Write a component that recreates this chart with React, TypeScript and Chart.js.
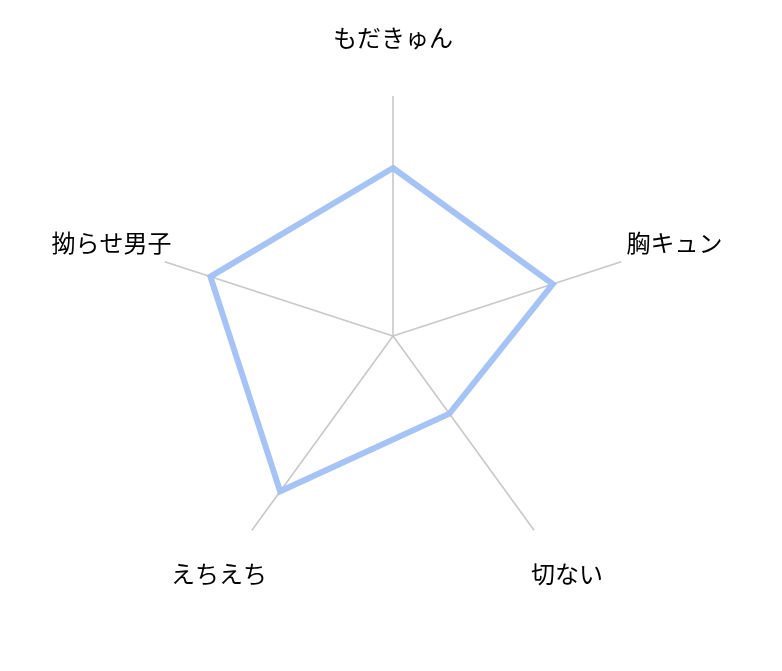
import React, { useEffect, useRef } from "react";
import { Chart, ChartConfiguration, registerables } from "chart.js";

Chart.register(...registerables);

const categories = ["もだきゅん", "胸キュン", "切ない", "えちえち", "拗らせ男子"];
const scores = [7, 7, 4, 8, 8];

// labels drawn centred a fixed distance outside the axis ends
const centredLabels = {
  id: "centredLabels",
  afterDraw(chart: any) {
    const scale = chart.scales.r;
    const ctx = chart.ctx;
    ctx.save();
    ctx.font = "24px 'Noto Sans CJK JP', sans-serif";
    ctx.fillStyle = "#000000";
    ctx.textAlign = "center";
    ctx.textBaseline = "middle";
    categories.forEach((label, i) => {
      const p = scale.getPointPosition(i, scale.drawingArea + 56);
      ctx.fillText(label, p.x, p.y - 2);
    });
    ctx.restore();
  },
};

const App: React.FC = () => {
  const canvasRef = useRef<HTMLCanvasElement>(null);
  const chartRef = useRef<Chart | null>(null);

  useEffect(() => {
    if (!canvasRef.current) return;
    if (chartRef.current) chartRef.current.destroy();

    const config = {
      type: "radar",
      data: {
        labels: categories,
        datasets: [
          {
            data: scores,
            borderColor: "rgba(160, 192, 243, 0.95)",
            backgroundColor: "rgba(0, 0, 0, 0)",
            borderWidth: 6,
            pointRadius: 0,
            fill: false,
          },
        ],
      },
      options: {
        animation: false,
        responsive: true,
        maintainAspectRatio: false,
        layout: {
          padding: { top: 88, bottom: 87, left: 145, right: 141 },
        },
        plugins: {
          legend: { display: false },
          tooltip: { enabled: false },
        },
        scales: {
          r: {
            min: 0,
            max: 10,
            ticks: { display: false, stepSize: 10 },
            grid: { display: false },
            angleLines: { color: "#c8c8c8", lineWidth: 1.6 },
            pointLabels: { display: false },
          },
        },
      },
      plugins: [centredLabels],
    };

    chartRef.current = new Chart(canvasRef.current, config as ChartConfiguration);

    return () => {
      if (chartRef.current) chartRef.current.destroy();
    };
  }, []);

  return (
    <div style={{ position: "relative", width: "100%", height: "655px" }}>
      <canvas ref={canvasRef} />
    </div>
  );
};

export default App;
